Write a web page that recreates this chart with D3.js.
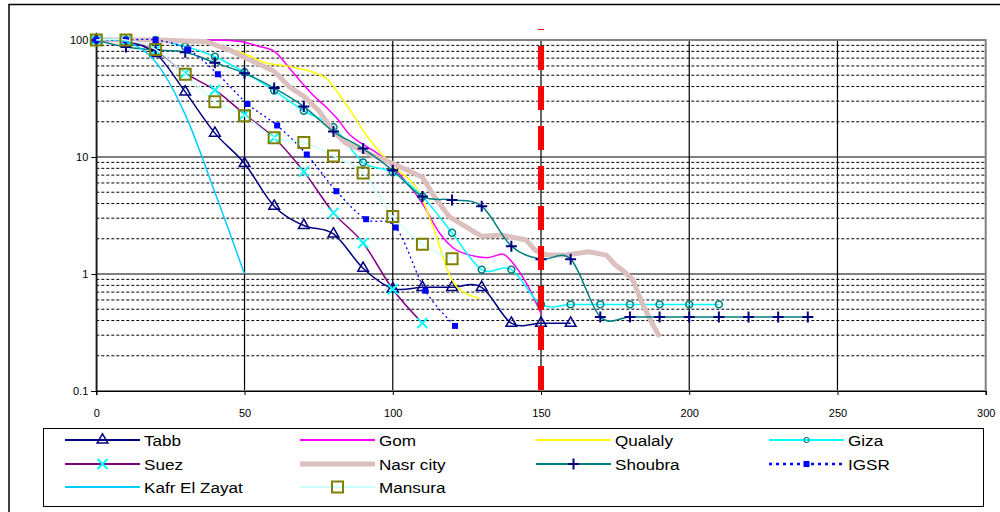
<!DOCTYPE html>
<html>
<head>
<meta charset="utf-8">
<script src="https://cdn.jsdelivr.net/npm/d3@7"></script>
<style>
  body { margin: 0; background: #fff; }
  svg { display: block; font-family: Arial, "Liberation Sans", sans-serif; }
</style>
</head>
<body>
<script>
'use strict';

// values (x = days / y = percent, log scale)
const tabbX = [0, 10, 20, 30, 40, 50, 60, 70, 80, 90, 100, 110, 120, 130, 140, 150, 160];
const tabbY = [100, 96, 77, 36, 16, 8.8, 3.8, 2.6, 2.2, 1.12, 0.75, 0.77, 0.77, 0.77, 0.38, 0.38, 0.38];

const gomX = [0, 10, 20, 30, 40, 48, 55, 60, 65, 69, 73, 78, 81, 85.5, 90, 95.6, 100, 110, 116, 120, 126, 132, 137, 140.5, 145, 150];
const gomY = [100, 100, 100, 100, 100, 97.5, 88, 80, 58, 44, 34, 26, 21.6, 15.5, 12.8, 10.4, 8.2, 4.0, 2.2, 1.7, 1.45, 1.38, 1.48, 1.24, 0.84, 0.46];

const qualX = [0, 10, 20, 30, 40, 49.5, 57, 65, 72, 78, 82, 86.6, 91, 95.6, 100, 109, 114.7, 118, 121.5, 129.3];
const qualY = [100, 100, 100, 98, 90, 77, 64, 59.6, 54, 46, 34, 23, 15.5, 11.1, 8.4, 4.9, 2.1, 1.16, 0.78, 0.62];

const gizaX = [0, 10, 20, 30, 40, 50, 60, 70, 80, 90, 100, 110, 120, 130, 140, 150, 160, 170, 180, 190, 200, 210];
const gizaY = [100, 100, 100, 88, 72, 53, 37, 24.8, 18, 9.0, 7.4, 4.6, 2.25, 1.09, 1.09, 0.55, 0.55, 0.55, 0.55, 0.55, 0.55, 0.55];

const suezX = [0, 10, 20, 30, 40, 50, 60, 70, 80, 90, 100, 110];
const suezY = [100, 99, 82, 52, 37.4, 23.2, 14.6, 7.5, 3.33, 1.84, 0.74, 0.38];

const nasrX = [0, 10, 20, 30, 37, 45, 50, 55, 60, 65, 70, 75, 80, 84, 88, 93, 100, 110, 114, 119, 125, 130, 137, 145, 148, 152, 158, 166, 172, 175, 178, 181, 184, 187, 190];
const nasrY = [100, 100, 100, 98, 97, 82, 71, 62, 54, 40, 33, 25, 16.5, 13.2, 11.9, 10.4, 8.8, 6.7, 4.6, 3.1, 2.5, 2.1, 2.15, 1.95, 1.6, 1.45, 1.45, 1.55, 1.45, 1.2, 1.05, 0.89, 0.57, 0.4, 0.29];

const shoubraX = [0, 10, 20, 30, 40, 50, 60, 70, 80, 90, 100, 110, 120, 130, 140, 150, 160, 170, 180, 190, 200, 210, 220, 230, 240];
const shoubraY = [100, 87, 82, 78.5, 64, 52, 38.8, 27, 16.5, 11.8, 7.7, 4.6, 4.3, 3.8, 1.73, 1.34, 1.34, 0.43, 0.43, 0.43, 0.43, 0.43, 0.43, 0.43, 0.43];

const igsrX = [0, 10, 20, 31, 41, 51, 61, 71, 81, 91, 101, 111, 121];
const igsrY = [100, 100, 100, 83, 51, 28.4, 18.6, 10.5, 5.1, 2.94, 2.5, 0.72, 0.36];

const kafrX = [0, 10, 20, 30, 40, 50];
const kafrY = [100, 97, 65, 23, 5, 1.0];

const mansX = [0, 10, 20, 30, 40, 50, 60, 70, 80, 90, 100, 110, 120];
const mansY = [100, 100, 83, 51, 29.6, 22.5, 14.6, 13.3, 10.2, 7.3, 3.1, 1.8, 1.35];

const cutoffX = 150;
const yTickLabels = [0.1, 1, 10, 100];

(function() {

  const svg = d3.select('body').append('svg')
    .attr('width', 1000)
    .attr('height', 512);

  const x = d3.scaleLinear().domain([0, 300]).range([96.3, 985.7]);
  const y = d3.scaleLog().domain([0.1, 100]).range([391, 40]);

  const smooth = d3.curveCardinal.tension(0);

  const series = [
    {name: 'Tabb', xs: tabbX, ys: tabbY, color: '#000080', width: 1.5, curve: smooth, marker: 'triangle'},
    {name: 'Gom', xs: gomX, ys: gomY, color: '#ff00ff', width: 1.5, curve: d3.curveMonotoneX},
    {name: 'Qualaly', xs: qualX, ys: qualY, color: '#ffff00', width: 1.5, curve: d3.curveMonotoneX},
    {name: 'Giza', xs: gizaX, ys: gizaY, color: '#00ffff', width: 1.5, curve: smooth, marker: 'circle'},
    {name: 'Suez', xs: suezX, ys: suezY, color: '#800080', width: 1.5, curve: smooth, marker: 'cross'},
    {name: 'Nasr city', xs: nasrX, ys: nasrY, color: '#dcbfbf', width: 5, curve: d3.curveLinear},
    {name: 'Shoubra', xs: shoubraX, ys: shoubraY, color: '#008080', width: 1.5, curve: smooth, marker: 'plus'},
    {name: 'IGSR', xs: igsrX, ys: igsrY, color: '#0000ff', width: 1.3, curve: smooth, marker: 'dot', dash: '2,3'},
    {name: 'Kafr El Zayat', xs: kafrX, ys: kafrY, color: '#00ccff', width: 1.5, curve: smooth},
    {name: 'Mansura', xs: mansX, ys: mansY, color: '#ccffff', width: 1.5, curve: smooth, marker: 'square'}
  ];

  // marker shapes and their looks
  const markers = {
    triangle: {d: d3.symbol(d3.symbolTriangle, 50)(), stroke: '#000080', fill: 'none', sw: 1.5},
    circle: {d: d3.symbol(d3.symbolCircle, 38)(), stroke: '#008080', fill: 'none', sw: 1.5},
    cross: {d: 'M-5,-5L5,5M-5,5L5,-5', stroke: '#00ffff', fill: 'none', sw: 2},
    plus: {d: 'M-5.5,0H5.5M0,-5.5V5.5', stroke: '#000080', fill: 'none', sw: 2},
    dot: {d: 'M-3,-3h6v6h-6z', stroke: 'none', fill: '#0000ff', sw: 0},
    square: {d: 'M-5.5,-5.5h11v11h-11z', stroke: '#808000', fill: 'none', sw: 2}
  };

  // outer chart frame
  svg.append('rect')
    .attr('x', 9).attr('y', 4.5)
    .attr('width', 1000).attr('height', 520)
    .attr('fill', 'none')
    .attr('stroke', '#000')
    .attr('stroke-width', 1.5);

  /****** Grid ******/
  const isMajor = v => Math.abs(Math.log10(v) - Math.round(Math.log10(v))) < 1e-9;
  const gridVals = y.ticks().filter(v => v > 0.1 && v < 100);

  svg.append('g').selectAll('line')
    .data(gridVals.filter(v => !isMajor(v)))
    .enter().append('line')
      .attr('x1', x(0)).attr('x2', x(300))
      .attr('y1', d => y(d)).attr('y2', d => y(d))
      .attr('stroke', '#000')
      .attr('stroke-width', 1)
      .style('stroke-dasharray', '3,2');

  svg.append('g').selectAll('line')
    .data(gridVals.filter(isMajor))
    .enter().append('line')
      .attr('x1', x(0)).attr('x2', x(300))
      .attr('y1', d => y(d)).attr('y2', d => y(d))
      .attr('stroke', '#000')
      .attr('stroke-width', 1.2);

  svg.append('g').selectAll('line')
    .data(x.ticks(6).filter(v => v > 0 && v < 300))
    .enter().append('line')
      .attr('x1', d => x(d)).attr('x2', d => x(d))
      .attr('y1', y(100)).attr('y2', y(0.1))
      .attr('stroke', '#000')
      .attr('stroke-width', 1.2);

  // plot area border
  svg.append('rect')
    .attr('x', x(0)).attr('y', y(100))
    .attr('width', x(300) - x(0)).attr('height', y(0.1) - y(100))
    .attr('fill', 'none')
    .attr('stroke', '#808080')
    .attr('stroke-width', 2);

  /****** Axes ******/
  const yAxis = svg.append('g')
    .attr('transform', 'translate(' + x(0) + ',0)')
    .call(d3.axisLeft(y).tickValues(yTickLabels).tickFormat(d => String(d)).tickSize(5).tickPadding(3));

  const xAxis = svg.append('g')
    .attr('transform', 'translate(0,' + y(0.1) + ')')
    .call(d3.axisBottom(x).ticks(6).tickSize(4).tickPadding(14));

  [yAxis, xAxis].forEach(function(ax) {
    ax.select('.domain').attr('stroke', '#000').attr('stroke-width', 1.2);
    ax.selectAll('.tick line').attr('stroke', '#000');
    ax.selectAll('text')
      .attr('font-family', 'Arial, "Liberation Sans", sans-serif')
      .attr('font-size', '11px')
      .attr('fill', '#000');
  });

  /****** Series ******/
  series.forEach(function(s) {
    const pts = s.xs.map((v, i) => [v, s.ys[i]]);
    const line = d3.line()
      .x(d => x(d[0]))
      .y(d => y(d[1]))
      .curve(s.curve);

    svg.append('path')
      .datum(pts)
      .attr('d', line)
      .attr('fill', 'none')
      .attr('stroke', s.color)
      .attr('stroke-width', s.width)
      .attr('stroke-linejoin', 'round')
      .style('stroke-dasharray', s.dash || null);

    if (s.marker) {
      const m = markers[s.marker];
      svg.append('g').selectAll('path')
        .data(pts)
        .enter().append('path')
          .attr('transform', d => 'translate(' + x(d[0]) + ',' + y(d[1]) + ')')
          .attr('d', m.d)
          .attr('fill', m.fill)
          .attr('stroke', m.stroke)
          .attr('stroke-width', m.sw);
    }
  });

  // red cut-off line
  svg.append('line')
    .attr('x1', x(cutoffX)).attr('x2', x(cutoffX))
    .attr('y1', 29).attr('y2', y(0.1))
    .attr('stroke', '#ff0000')
    .attr('stroke-width', 6)
    .style('stroke-dasharray', '24,16')
    .style('stroke-dashoffset', 23);

  /****** Legend ******/
  svg.append('rect')
    .attr('x', 43.5).attr('y', 428.5)
    .attr('width', 940).attr('height', 78)
    .attr('fill', 'none')
    .attr('stroke', '#000')
    .attr('stroke-width', 1);

  const legendCols = [65, 300, 536, 769];
  const legendRows = [440, 464, 487];

  series.forEach(function(s, i) {
    const lx = legendCols[i % 4];
    const ly = legendRows[Math.floor(i / 4)];
    const item = svg.append('g').attr('transform', 'translate(' + lx + ',' + ly + ')');

    item.append('line')
      .attr('x1', 0).attr('x2', 75)
      .attr('y1', 0).attr('y2', 0)
      .attr('stroke', s.color)
      .attr('stroke-width', s.name === 'Nasr city' ? 5 : (s.dash ? 2.5 : 2))
      .style('stroke-dasharray', s.dash ? '3,4' : null);

    if (s.marker) {
      const m = markers[s.marker];
      item.append('path')
        .attr('transform', 'translate(37.5,0)' + (s.marker === 'circle' ? ' scale(0.7)' : ''))
        .attr('d', m.d)
        .attr('fill', m.fill)
        .attr('stroke', m.stroke)
        .attr('stroke-width', m.sw);
    }

    item.append('text')
      .attr('transform', 'translate(79,5.5) scale(1.18,1)')
      .attr('font-size', '14.5px')
      .attr('fill', '#000')
      .text(s.name);
  });

})();
</script>
</body>
</html>
